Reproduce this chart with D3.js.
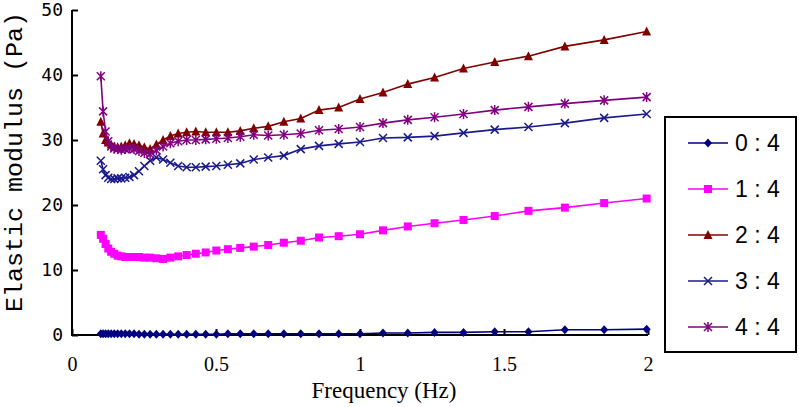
<!DOCTYPE html>
<html><head><meta charset="utf-8">
<script src="https://cdn.jsdelivr.net/npm/d3@7"></script>
<style>body{margin:0;background:#fff}svg{display:block}</style>
</head><body>
<svg id="c" width="799" height="407"></svg>
<script>
const freq = [0.1,0.108,0.1166,0.1259,0.1359,0.1468,0.1585,0.1711,0.1848,0.1995,
  0.2154,0.2326,0.2512,0.2712,0.2929,0.3162,0.3415,0.3687,0.3981,0.4299,
  0.4642,0.5012,0.5412,0.5843,0.631,0.6813,0.7356,0.7943,0.8577,0.9261,
  1.0,1.0798,1.1659,1.2589,1.3594,1.4678,1.5849,1.7113,1.8478,1.9953];
const s04 = [0.2,0.2,0.2,0.2,0.2,0.2,0.2,0.2,0.2,0.2,0.2,0.1,0.1,0.1,0.1,0.1,0.1,0.1,0.1,0.1,
  0.1,0.1,0.2,0.2,0.2,0.2,0.2,0.2,0.2,0.2,0.2,0.3,0.3,0.4,0.4,0.5,0.5,0.8,0.8,0.9];
const s14 = [15.4,14.8,14.0,13.3,12.8,12.5,12.2,12.1,12.0,12.0,12.0,12.0,11.9,11.9,11.8,11.7,11.9,12.1,12.3,12.5,
  12.7,13.0,13.2,13.4,13.6,13.85,14.2,14.5,15.0,15.2,15.5,16.1,16.7,17.2,17.7,18.3,19.1,19.6,20.3,21.0];
const s24 = [32.8,31.0,30.0,29.6,29.3,29.0,28.9,29.0,29.2,29.5,29.4,29.2,28.9,28.6,29.3,30.0,30.6,31.0,31.2,31.3,
  31.2,31.2,31.2,31.4,31.8,32.1,32.8,33.3,34.6,35.0,36.3,37.3,38.6,39.6,41.0,42.0,42.9,44.4,45.4,46.7];
const s34 = [26.8,25.5,24.6,24.2,24.0,24.0,24.1,24.1,24.2,24.3,24.6,25.2,26.0,26.8,27.3,27.0,26.5,26.0,25.8,25.8,
  25.9,26.0,26.2,26.4,27.0,27.3,27.6,28.6,29.1,29.4,29.7,30.3,30.4,30.6,31.1,31.6,32.0,32.6,33.4,34.0];
const s44 = [39.8,34.4,31.3,29.8,29.0,28.7,28.6,28.5,28.6,28.7,28.6,28.3,28.0,27.8,28.4,29.0,29.5,29.8,30.0,30.0,
  30.1,30.2,30.3,30.5,30.8,30.7,30.8,31.0,31.5,31.7,32.0,32.6,33.1,33.5,34.0,34.6,35.1,35.6,36.1,36.6];
const seriesNames = ["0 : 4","1 : 4","2 : 4","3 : 4","4 : 4"];
const xTicks = [0,0.5,1,1.5,2];
const xTickLabels = ["0","0.5","1","1.5","2"];
const yTicks = [0,10,20,30,40,50];
const xTitle = "Frequency (Hz)";
const yTitle = "Elastic modulus (Pa)";

const seriesValues = [s04,s14,s24,s34,s44];
const colors = ["#000080","#ff00ff","#800000","#1a1a8c","#800080"];
const markers = ["diamond","square","triangle","x","star"];

const svg = d3.select("#c");
const x = d3.scaleLinear().domain([0,2]).range([72,648]);
const y = d3.scaleLinear().domain([0,50]).range([335,10]);

function drawMarker(g, type, cx, cy, color){
  if(type==="diamond"){
    g.append("path").attr("d",`M${cx},${cy-4.5}L${cx+4},${cy}L${cx},${cy+4.5}L${cx-4},${cy}Z`).attr("fill",color);
  } else if(type==="square"){
    g.append("rect").attr("x",cx-4).attr("y",cy-4).attr("width",8).attr("height",8).attr("fill",color);
  } else if(type==="triangle"){
    g.append("path").attr("d",`M${cx},${cy-5}L${cx+4.5},${cy+4}L${cx-4.5},${cy+4}Z`).attr("fill",color);
  } else if(type==="x"){
    g.append("path").attr("d",`M${cx-4},${cy-4}L${cx+4},${cy+4}M${cx-4},${cy+4}L${cx+4},${cy-4}`).attr("stroke",color).attr("stroke-width",1.5).attr("fill","none");
  } else if(type==="star"){
    g.append("path").attr("d",`M${cx-4},${cy-4}L${cx+4},${cy+4}M${cx-4},${cy+4}L${cx+4},${cy-4}M${cx},${cy-5}L${cx},${cy+5}`).attr("stroke",color).attr("stroke-width",1.5).attr("fill","none");
  }
}

// axes
const xAxis = d3.axisBottom(x).tickValues(xTicks).tickSize(-6).tickFormat((d,i)=>xTickLabels[i]);
const gx = svg.append("g").attr("transform","translate(0,335)").call(xAxis);
gx.select(".domain").attr("stroke","#000").attr("stroke-width",2).attr("d","M72,0H648");
gx.selectAll(".tick line").attr("stroke","#000").attr("stroke-width",2);
gx.selectAll(".tick text").attr("y",22).attr("font-family","'Liberation Serif',serif").attr("font-size",20).attr("fill","#000");

const yAxis = d3.axisLeft(y).tickValues(yTicks).tickSize(-6);
const gy = svg.append("g").attr("transform","translate(72,0)").call(yAxis);
gy.select(".domain").attr("stroke","#000").attr("stroke-width",2).attr("d","M0,10V336");
gy.selectAll(".tick line").attr("stroke","#000").attr("stroke-width",2);
gy.selectAll(".tick text").attr("x",-9).attr("font-family","'DejaVu Sans Mono',monospace").attr("font-size",18).attr("fill","#000");

// series
const line = d3.line().x((d,i)=>x(freq[i])).y(d=>y(d));
seriesValues.forEach((vals,si)=>{
  const g = svg.append("g");
  g.append("path").attr("d",line(vals)).attr("fill","none").attr("stroke",colors[si]).attr("stroke-width",1.6);
  vals.forEach((v,i)=>drawMarker(g,markers[si],x(freq[i]),y(v),colors[si]));
});

// titles
svg.append("text").attr("x",384).attr("y",398).attr("text-anchor","middle")
  .attr("font-family","'Liberation Serif',serif").attr("font-size",23).text(xTitle);
svg.append("text").attr("transform","translate(22,162) rotate(-90)").attr("text-anchor","middle")
  .attr("font-family","'Liberation Mono',monospace").attr("font-size",23)
  .attr("textLength",300).attr("lengthAdjust","spacingAndGlyphs").text(yTitle);

// legend
const lg = svg.append("g");
lg.append("rect").attr("x",665).attr("y",117).attr("width",131).attr("height",235)
  .attr("fill","#fff").attr("stroke","#000").attr("stroke-width",2);
seriesNames.forEach((n,i)=>{
  const ly = 143 + i*46;
  lg.append("line").attr("x1",688).attr("x2",728).attr("y1",ly).attr("y2",ly).attr("stroke",colors[i]).attr("stroke-width",1.6);
  drawMarker(lg,markers[i],708,ly,colors[i]);
  lg.append("text").attr("x",735).attr("y",ly+8).attr("font-family","'Liberation Sans',Arial,sans-serif")
    .attr("font-size",23).attr("fill","#000").text(n);
});
</script>
</body></html>
